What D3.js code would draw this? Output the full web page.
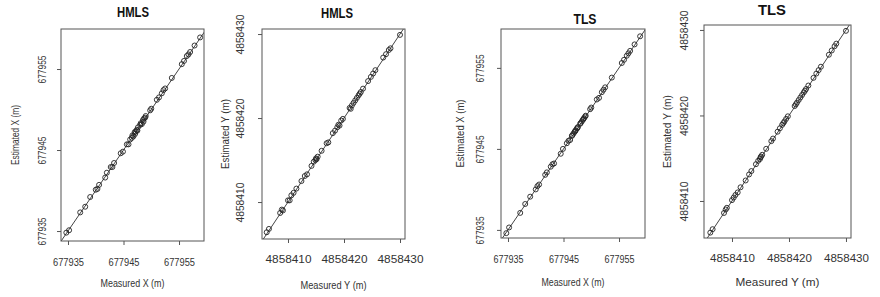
<!DOCTYPE html>
<html><head><meta charset="utf-8">
<script src="https://cdn.jsdelivr.net/npm/d3@7"></script>
<style>body{margin:0;background:#fff}svg{display:block}text{font-family:"Liberation Sans",Arial,sans-serif}</style>
</head><body><svg id="c" width="880" height="297"></svg>
<script>
// ---- data ----
const measuredX = [677934.7,677935.2,677937.2,677938.1,677939.0,677940.0,677940.3,677940.6,677941.7,677942.0,677942.7,677943.0,677943.3,677944.5,677944.9,677945.6,677945.9,677946.2,677946.5,677946.6,677946.8,677947.0,677947.1,677947.2,677947.4,677947.5,677947.6,677948.0,677948.1,677948.3,677948.5,677948.6,677948.7,677948.9,677949.0,677949.8,677950.0,677951.0,677951.4,677951.9,677952.2,677952.5,677953.7,677955.5,677955.9,677956.4,677956.7,677957.0,677957.8,677958.8];
const hmlsX = [677934.8,677935.1,677937.3,677938.0,677939.2,677940.1,677940.2,677940.7,677941.6,677942.2,677942.9,677942.9,677943.4,677944.6,677944.8,677945.7,677945.7,677946.3,677946.5,677946.8,677946.7,677947.2,677947.0,677947.3,677947.5,677947.4,677947.8,677948.1,677948.3,677948.2,677948.7,677948.5,677948.9,677949.0,677949.2,677949.9,677950.1,677951.2,677951.5,677952.0,677952.4,677952.6,677953.9,677955.6,677956.0,677956.6,677956.8,677957.1,677957.9,677958.9];
const tlsX = [677934.6,677935.3,677937.1,677938.2,677939.1,677940.0,677940.4,677940.6,677941.8,677942.1,677942.8,677943.1,677943.2,677944.4,677945.0,677945.7,677946.0,677946.1,677946.6,677946.7,677946.9,677947.1,677947.2,677947.3,677947.5,677947.6,677947.7,677948.1,677948.2,677948.4,677948.6,677948.7,677948.8,677949.0,677949.1,677949.9,677950.1,677951.1,677951.3,677952.0,677952.3,677952.6,677953.8,677955.6,677956.0,677956.5,677956.8,677957.1,677957.9,677958.9];
const measuredY = [4858406.2,4858406.6,4858408.6,4858408.9,4858409.1,4858410.0,4858410.3,4858410.6,4858411.0,4858411.5,4858412.4,4858413.0,4858413.4,4858414.2,4858414.6,4858414.9,4858415.0,4858415.1,4858415.3,4858416.0,4858416.9,4858417.2,4858418.0,4858418.4,4858418.8,4858419.0,4858419.2,4858419.5,4858419.8,4858421.0,4858421.2,4858421.4,4858421.7,4858422.0,4858422.3,4858422.6,4858422.8,4858423.0,4858423.4,4858424.3,4858424.8,4858425.2,4858425.6,4858427.0,4858427.5,4858428.0,4858428.3,4858430.0];
const hmlsY = [4858406.4,4858406.8,4858408.7,4858409.1,4858409.0,4858410.2,4858410.2,4858410.8,4858411.1,4858411.6,4858412.5,4858413.1,4858413.3,4858414.3,4858414.8,4858415.0,4858415.2,4858415.1,4858415.4,4858416.1,4858417.0,4858417.1,4858418.2,4858418.5,4858418.9,4858419.2,4858419.1,4858419.7,4858419.9,4858421.2,4858421.1,4858421.5,4858421.8,4858422.1,4858422.4,4858422.7,4858422.9,4858423.1,4858423.5,4858424.4,4858424.9,4858425.3,4858425.7,4858427.2,4858427.6,4858428.1,4858428.3,4858429.9];
const tlsY = [4858406.3,4858406.7,4858408.6,4858409.0,4858409.2,4858410.1,4858410.4,4858410.7,4858411.0,4858411.6,4858412.4,4858413.1,4858413.5,4858414.3,4858414.7,4858414.9,4858415.1,4858415.2,4858415.4,4858416.1,4858417.0,4858417.3,4858418.1,4858418.5,4858418.9,4858419.1,4858419.3,4858419.6,4858419.9,4858421.1,4858421.3,4858421.5,4858421.8,4858422.1,4858422.4,4858422.7,4858422.9,4858423.1,4858423.5,4858424.4,4858424.9,4858425.3,4858425.7,4858427.1,4858427.6,4858428.1,4858428.4,4858429.9];
const ticksX = [677935, 677945, 677955];
const ticksY = [4858410, 4858420, 4858430];
const panelTitles = ["HMLS", "HMLS", "TLS", "TLS"];
const xAxisTitles = ["Measured X (m)", "Measured Y (m)", "Measured X (m)", "Measured Y (m)"];
const yAxisTitles = ["Estimated X (m)", "Estimated Y (m)", "Estimated X (m)", "Estimated Y (m)"];

// ---- layout ----  (font size, text length) pairs
const panels = [
  {m: measuredX, e: hmlsX, ticks: ticksX, xd:[677933.74,677959.50], yd:[677933.77,677959.94],
   box:[61,29,204,241], tx:133, ty:12, xtickY:262, xtitleY:283, ytickX:42, ytitleX:15,
   fs:{title:[14,32], xtick:[11.5,31], ytick:[10,28], xtitle:[10.5,64], ytitle:[10,60]}},
  {m: measuredY, e: hmlsY, ticks: ticksY, xd:[4858405.36,4858430.89], yd:[4858405.6,4858430.6],
   box:[262,29,405,239], tx:337, ty:13, xtickY:259, xtitleY:285, ytickX:240, ytitleX:225,
   fs:{title:[14,32], xtick:[11.8,46], ytick:[10.5,40], xtitle:[10,66], ytitle:[10,70]}},
  {m: measuredX, e: tlsX, ticks: ticksX, xd:[677933.74,677959.68], yd:[677934.0,677959.8],
   box:[501,29,645,238], tx:585, ty:19, xtickY:259, xtitleY:282, ytickX:480, ytitleX:460,
   fs:{title:[14,23], xtick:[11.5,30], ytick:[10,28], xtitle:[10.5,63], ytitle:[10,68]}},
  {m: measuredY, e: tlsY, ticks: ticksY, xd:[4858405.09,4858430.88], yd:[4858405.67,4858430.58],
   box:[704,25,851,238], tx:772, ty:10, xtickY:258, xtitleY:282, ytickX:684, ytitleX:667,
   fs:{title:[15,28], xtick:[11.6,45], ytick:[10.5,40], xtitle:[11.5,84], ytitle:[10.5,73]}}
];

const svg = d3.select("#c");
const defs = svg.append("defs");
function sized(sel, spec) {
  return sel.attr("font-size", spec[0]).attr("textLength", spec[1]).attr("lengthAdjust", "spacingAndGlyphs");
}

panels.forEach((p, i) => {
  const [x0, y0, x1, y1] = p.box;
  const x = d3.scaleLinear().domain(p.xd).range([x0, x1]);
  const y = d3.scaleLinear().domain(p.yd).range([y1, y0]);
  const g = svg.append("g");

  defs.append("clipPath").attr("id", "clip" + i)
    .append("rect").attr("x", x0).attr("y", y0).attr("width", x1 - x0).attr("height", y1 - y0);

  // 1:1 line
  const lo = Math.min(p.xd[0], p.yd[0]) - 1, hi = Math.max(p.xd[1], p.yd[1]) + 1;
  g.append("line").attr("clip-path", `url(#clip${i})`)
    .attr("x1", x(lo)).attr("y1", y(lo)).attr("x2", x(hi)).attr("y2", y(hi))
    .attr("stroke", "#444").attr("stroke-width", 1);

  // points
  g.append("g").selectAll("circle").data(p.m.map((v, k) => [v, p.e[k]])).join("circle")
    .attr("cx", d => x(d[0])).attr("cy", d => y(d[1])).attr("r", 2.5)
    .attr("fill", "none").attr("stroke", "#222").attr("stroke-width", 0.9);

  // box
  g.append("rect").attr("x", x0).attr("y", y0).attr("width", x1 - x0).attr("height", y1 - y0)
    .attr("fill", "none").attr("stroke", "#555").attr("stroke-width", 1);

  // x axis
  const ax = g.append("g").attr("transform", `translate(0,${y1})`)
    .call(d3.axisBottom(x).tickValues(p.ticks).tickSize(4).tickFormat(d3.format("d")));
  ax.select(".domain").remove();
  ax.selectAll("line").attr("stroke", "#555");
  sized(ax.selectAll("text").attr("y", p.xtickY - y1).attr("dy", "0.35em")
    .attr("fill", "#333").attr("font-family", null), p.fs.xtick);

  // y axis
  const ay = g.append("g").attr("transform", `translate(${x0},0)`)
    .call(d3.axisLeft(y).tickValues(p.ticks).tickSize(4).tickFormat(d3.format("d")));
  ay.select(".domain").remove();
  ay.selectAll("line").attr("stroke", "#555");
  sized(ay.selectAll("text").attr("transform", "rotate(-90)").attr("x", 0).attr("y", p.ytickX - x0)
    .attr("dy", "0.35em").attr("text-anchor", "middle")
    .attr("fill", "#333").attr("font-family", null), p.fs.ytick);

  // titles
  sized(g.append("text").attr("x", p.tx).attr("y", p.ty).attr("dy", "0.35em").attr("text-anchor", "middle")
    .attr("font-weight", "bold").attr("fill", "#111").text(panelTitles[i]), p.fs.title);
  sized(g.append("text").attr("x", (x0 + x1) / 2).attr("y", p.xtitleY).attr("dy", "0.35em").attr("text-anchor", "middle")
    .attr("fill", "#333").text(xAxisTitles[i]), p.fs.xtitle);
  sized(g.append("text").attr("transform", `translate(${p.ytitleX},${(y0 + y1) / 2}) rotate(-90)`)
    .attr("dy", "0.35em").attr("text-anchor", "middle")
    .attr("fill", "#333").text(yAxisTitles[i]), p.fs.ytitle);
});
</script></body></html>
